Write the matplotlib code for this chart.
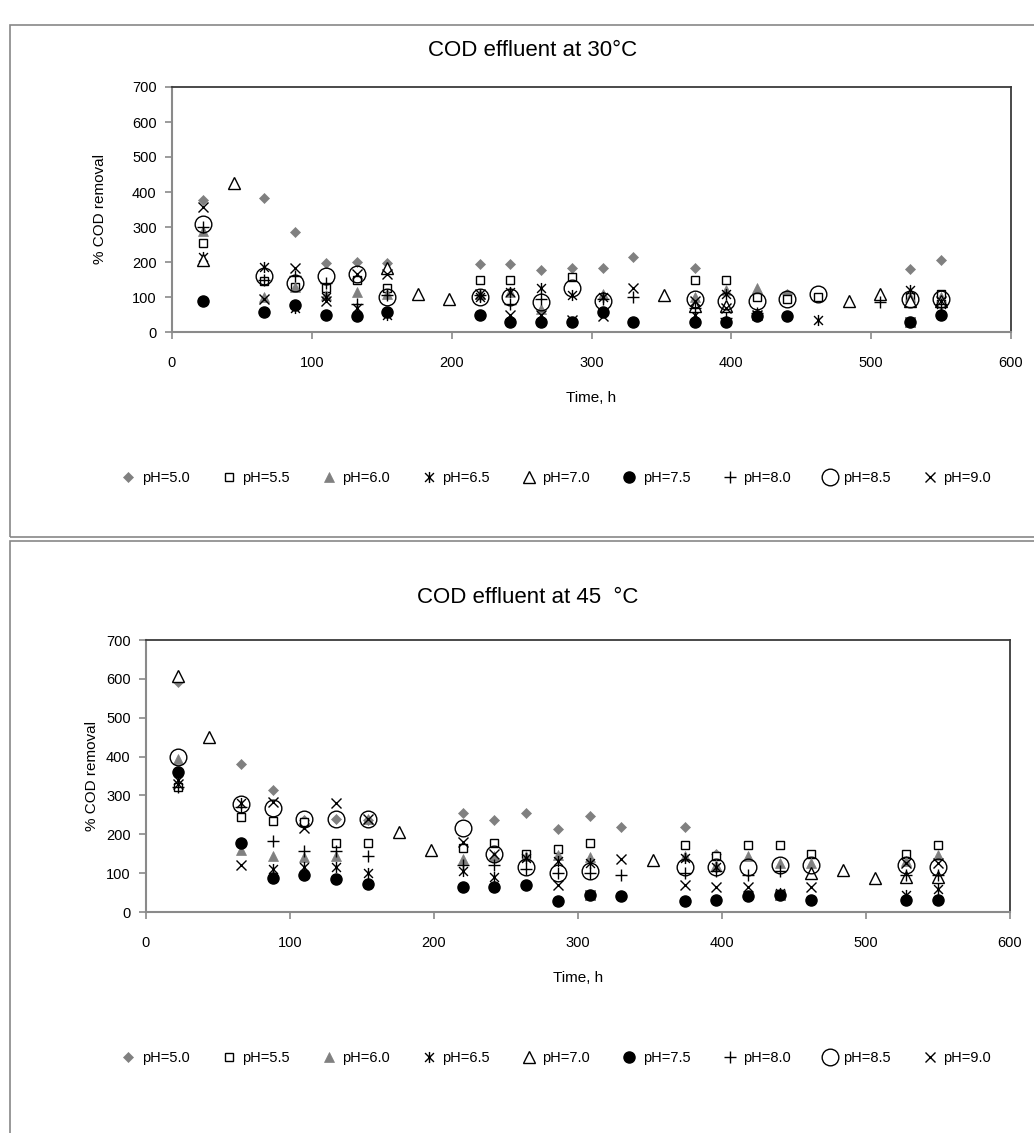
import numpy as np
import matplotlib
matplotlib.use("Agg")
import matplotlib.pyplot as plt
from matplotlib.path import Path
from matplotlib.patches import Rectangle

plt.rcParams['font.family'] = ['Liberation Sans', 'DejaVu Sans']

nan = np.nan

# sampling times, h
hours = [22, 44, 66, 88, 110, 132, 154, 176, 198, 220, 242, 264, 286,
         308, 330, 352, 374, 396, 418, 440, 462, 484, 506, 528, 550]

ph_labels = ['pH=5.0', 'pH=5.5', 'pH=6.0', 'pH=6.5', 'pH=7.0',
             'pH=7.5', 'pH=8.0', 'pH=8.5', 'pH=9.0']

# ---- 30 °C ----
t30_ph50 = [378, nan, 382, 285, 197, 200, 197, nan, nan, 195, 195, 178, 182,
            182, 215, nan, 182, nan, nan, 110, nan, nan, nan, 181, 205]
t30_ph55 = [253, nan, 145, 130, 125, 150, 125, nan, nan, 150, 150, nan, 158,
            nan, nan, nan, 150, 150, 100, 95, 100, nan, nan, 100, 110]
t30_ph60 = [290, nan, 100, 130, 105, 115, 110, nan, nan, 110, 115, 65, nan,
            110, nan, nan, 100, 120, 125, nan, nan, nan, nan, 100, 100]
t30_ph65 = [215, nan, 185, 68, 100, 70, 50, nan, nan, 100, 115, 125, 105,
            100, nan, nan, 50, 110, 50, nan, 35, nan, nan, 120, 80]
t30_ph70 = [205, 425, nan, nan, nan, nan, 184, 110, 95, nan, nan, nan, nan,
            nan, nan, 105, 75, 75, nan, nan, nan, 90, 110, 90, 90]
t30_ph75 = [88, nan, 58, 78, 48, 45, 58, nan, nan, 48, 30, 30, 30,
            58, 28, nan, 30, 30, 45, 45, nan, nan, nan, 30, 48]
t30_ph80 = [300, nan, 150, 160, 140, 80, 105, nan, nan, 105, 80, 95, nan,
            95, 100, nan, 70, 40, 55, nan, nan, nan, 85, nan, 80]
t30_ph85 = [309, nan, 160, 140, 160, 165, 100, nan, nan, 100, 100, 85, 125,
            90, nan, nan, 95, 90, 88, 95, 110, nan, nan, 95, 95]
t30_ph90 = [358, nan, 95, 184, 90, 165, 165, nan, nan, 110, 50, 50, 35,
            45, 125, nan, 90, 70, 50, nan, nan, nan, nan, 30, 90]

# ---- 45 °C ----
t45_ph50 = [592, nan, 382, 315, 237, 240, 238, nan, nan, 255, 237, 255, 213,
            246, 220, nan, 220, 148, nan, nan, nan, nan, nan, nan, nan]
t45_ph55 = [322, nan, 245, 234, 232, 178, 178, nan, nan, 165, 178, 150, 163,
            178, nan, nan, 172, 145, 172, 172, 150, nan, nan, 150, 172]
t45_ph60 = [393, nan, 159, 143, 142, 144, 240, nan, nan, 137, 145, 145, 146,
            142, nan, nan, 144, 120, 144, 125, 125, nan, nan, 130, 147]
t45_ph65 = [340, nan, 280, 110, 115, 115, 100, nan, nan, 105, 90, 140, 130,
            125, nan, nan, 140, 115, nan, 50, nan, nan, nan, 45, 60]
t45_ph70 = [607, 451, nan, nan, nan, nan, nan, 206, 159, nan, nan, nan, nan,
            nan, nan, 133, nan, nan, nan, nan, 100, 108, 88, 90, 90]
t45_ph75 = [360, nan, 178, 88, 95, 85, 72, nan, nan, 65, 65, 70, 28,
            45, 42, nan, 28, 30, 42, 45, 30, nan, nan, 30, 30]
t45_ph80 = [322, nan, 270, 183, 158, 158, 143, nan, nan, 120, 120, 110, 100,
            100, 95, nan, 100, 105, 95, 105, nan, nan, nan, 95, 95]
t45_ph85 = [398, nan, 278, 268, 240, 240, 240, nan, nan, 215, 150, 115, 100,
            105, nan, nan, 115, 115, 115, 122, 122, nan, nan, 122, 115]
t45_ph90 = [330, nan, 120, 282, 215, 281, 240, nan, nan, 180, 150, nan, 70,
            45, 137, nan, 70, 65, 65, 45, 65, nan, nan, 125, 125]

series_30 = [t30_ph50, t30_ph55, t30_ph60, t30_ph65, t30_ph70,
             t30_ph75, t30_ph80, t30_ph85, t30_ph90]
series_45 = [t45_ph50, t45_ph55, t45_ph60, t45_ph65, t45_ph70,
             t45_ph75, t45_ph80, t45_ph85, t45_ph90]

# Excel "star" marker: x with a vertical bar
star = Path([(-1, -1), (1, 1), (-1, 1), (1, -1), (0, -1.25), (0, 1.25)],
            [Path.MOVETO, Path.LINETO, Path.MOVETO, Path.LINETO,
             Path.MOVETO, Path.LINETO])

grey = '#808080'
styles = [
    dict(marker='D', ms=5.5, mfc=grey, mec=grey, mew=0.5),
    dict(marker='s', ms=5.5, mfc='white', mec='black', mew=1.0),
    dict(marker='^', ms=6.5, mfc=grey, mec=grey, mew=0.5),
    dict(marker=star, ms=8, mfc='none', mec='black', mew=1.0),
    dict(marker='^', ms=8, mfc='white', mec='black', mew=1.0),
    dict(marker='o', ms=8, mfc='black', mec='black', mew=1.0),
    dict(marker='+', ms=9, mfc='none', mec='black', mew=1.0),
    dict(marker='o', ms=12, mfc='none', mec='black', mew=1.0),
    dict(marker='x', ms=7.5, mfc='none', mec='black', mew=1.0),
]

W, H = 1034, 1133
fig = plt.figure(figsize=(W / 100, H / 100), dpi=100)


def fx(px):
    return px / W


def fy(py):
    return 1 - py / H


# chart frames
fig.patches.append(Rectangle((fx(10), fy(537)), fx(1040) - fx(10), fy(25) - fy(537),
                             transform=fig.transFigure, fill=False,
                             edgecolor='#878787', lw=1.2))
fig.patches.append(Rectangle((fx(10), fy(1140)), fx(1040) - fx(10), fy(541) - fy(1140),
                             transform=fig.transFigure, fill=False,
                             edgecolor='#878787', lw=1.2))


def draw_chart(left, right, top, bottom, data, title, title_x, title_y, ylab_x):
    ax = fig.add_axes([fx(left), fy(bottom), fx(right) - fx(left), fy(top) - fy(bottom)])
    handles = []
    for vals, st, lab in zip(data, styles, ph_labels):
        h, = ax.plot(hours, vals, linestyle='none', label=lab, **st)
        handles.append(h)
    ax.set_xlim(0, 600)
    ax.set_ylim(0, 700)
    ax.set_xticks(range(0, 601, 100))
    ax.set_yticks(range(0, 701, 100))
    for s in ['top', 'right']:
        ax.spines[s].set_color('#3a3a3a')
        ax.spines[s].set_linewidth(1.3)
    for s in ['left', 'bottom']:
        ax.spines[s].set_color('#8a8a8a')
        ax.spines[s].set_linewidth(1.5)
    ax.tick_params(axis='both', direction='out', length=5, width=1.2,
                   color='#8a8a8a', labelsize=10.5, labelcolor='black')
    ax.tick_params(axis='x', pad=12)
    ax.tick_params(axis='y', pad=6)
    fig.text(fx(title_x), fy(title_y), title, ha='center', va='center', fontsize=16)
    fig.text(fx(ylab_x), fy((top + bottom) / 2), '% COD removal', rotation=90,
             ha='center', va='center', fontsize=11)
    fig.text(fx((left + right) / 2), fy(bottom + 66), 'Time, h',
             ha='center', va='center', fontsize=11)
    fig.legend(handles, ph_labels, loc='center',
               bbox_to_anchor=(fx(556), fy(bottom + 146)), ncol=9, frameon=False,
               fontsize=10.5, handlelength=1.0, handletextpad=0.4,
               columnspacing=2.2, borderaxespad=0)
    return ax


draw_chart(172, 1011, 87, 332, series_30, 'COD effluent at 30°C', 533, 50, 100)
draw_chart(146, 1010, 640, 912, series_45, 'COD effluent at 45  °C', 528, 598, 92)

fig.savefig('out.png', dpi=100)
